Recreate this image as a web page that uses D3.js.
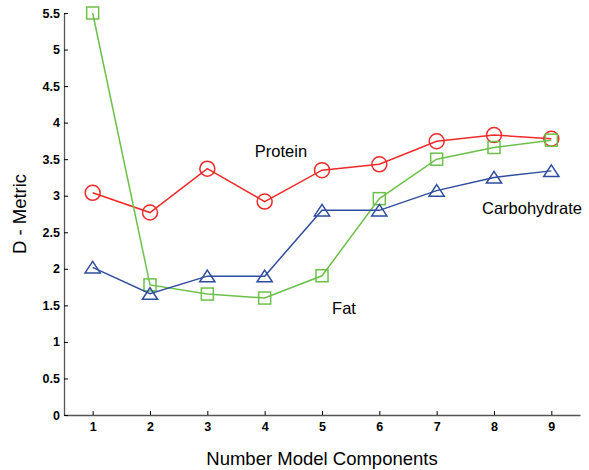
<!DOCTYPE html>
<html>
<head>
<meta charset="utf-8">
<script src="https://cdn.jsdelivr.net/npm/d3@7"></script>
<style>
  body { margin: 0; background: #fff; }
  .axis text { font-family: "Liberation Sans", Arial, sans-serif; font-size: 12.5px; font-weight: bold; fill: #000; }
  .axis .domain { stroke: #555; stroke-width: 1.3; }
  .axis .tick line { stroke: #000; }
  .label { font-family: "Liberation Sans", Arial, sans-serif; font-size: 16.5px; fill: #000; }
  .axis-label { font-family: "Liberation Sans", Arial, sans-serif; font-size: 18.5px; fill: #000; }
</style>
</head>
<body>
<div id="chart"></div>
<script>
let canvasWidth = 589;
let canvasHeight = 470;

// data
let components = [1, 2, 3, 4, 5, 6, 7, 8, 9];
let protein = [3.04, 2.77, 3.37, 2.92, 3.35, 3.43, 3.745, 3.83, 3.78];
let fat = [5.5, 1.78, 1.655, 1.6, 1.905, 2.96, 3.5, 3.66, 3.76];
let carbohydrate = [2.02, 1.66, 1.9, 1.9, 2.8, 2.8, 3.07, 3.25, 3.34];
let yTicks = [0, 0.5, 1, 1.5, 2, 2.5, 3, 3.5, 4, 4.5, 5, 5.5];
let yTickLabels = ["0", "0.5", "1", "1.5", "2", "2.5", "3", "3.5", "4", "4.5", "5", "5.5"];

let svg = d3.select("#chart")
    .append("svg")
    .attr("width", canvasWidth)
    .attr("height", canvasHeight);

let xScale = d3.scaleLinear().domain([0.5, 9.5]).range([64, 580]);
let yScale = d3.scaleLinear().domain([0, 5.5]).range([415, 13]);

// x axis
svg.append("g")
    .attr("class", "axis")
    .attr("transform", "translate(0, 415)")
    .call(d3.axisBottom(xScale)
        .tickValues(components)
        .tickFormat(d3.format("d"))
        .tickSizeInner(-4)
        .tickSizeOuter(0)
        .tickPadding(7));

// y axis
svg.append("g")
    .attr("class", "axis")
    .attr("transform", "translate(64, 0)")
    .call(d3.axisLeft(yScale)
        .tickValues(yTicks)
        .tickFormat((d, i) => yTickLabels[i])
        .tickSizeInner(-4)
        .tickSizeOuter(0)
        .tickPadding(4));

// axis labels
svg.append("text")
    .attr("class", "axis-label")
    .attr("x", 322)
    .attr("y", 465)
    .attr("text-anchor", "middle")
    .text("Number Model Components");

svg.append("text")
    .attr("class", "axis-label")
    .attr("text-anchor", "middle")
    .attr("transform", "translate(26, 214) rotate(-90)")
    .text("D - Metric");

let line = d3.line()
    .x((d, i) => xScale(components[i]))
    .y(d => yScale(d));

let series = [
    { name: "Protein", values: protein, color: "#ee2a2a", marker: "circle" },
    { name: "Fat", values: fat, color: "#6cc04a", marker: "square" },
    { name: "Carbohydrate", values: carbohydrate, color: "#2e4c9e", marker: "triangle" }
];

series.forEach(s => {
    let g = svg.append("g");
    g.append("path")
        .datum(s.values)
        .attr("fill", "none")
        .attr("stroke", s.color)
        .attr("stroke-width", 1.5)
        .attr("d", line);

    let pts = g.selectAll(".pt")
        .data(s.values)
        .enter();

    if (s.marker === "circle") {
        pts.append("circle")
            .attr("cx", (d, i) => xScale(components[i]))
            .attr("cy", d => yScale(d))
            .attr("r", 7.5)
            .attr("fill", "none")
            .attr("stroke", s.color)
            .attr("stroke-width", 1.5);
    } else if (s.marker === "square") {
        pts.append("rect")
            .attr("x", (d, i) => xScale(components[i]) - 6)
            .attr("y", d => yScale(d) - 6)
            .attr("width", 12)
            .attr("height", 12)
            .attr("fill", "none")
            .attr("stroke", s.color)
            .attr("stroke-width", 1.5);
    } else {
        pts.append("path")
            .attr("transform", (d, i) => "translate(" + xScale(components[i]) + ", " + yScale(d) + ")")
            .attr("d", "M0,-6L7.6,5.6L-7.6,5.6Z")
            .attr("fill", "none")
            .attr("stroke", s.color)
            .attr("stroke-width", 1.5);
    }
});

// series labels
svg.append("text").attr("class", "label").attr("x", 281).attr("y", 156.5)
    .attr("text-anchor", "middle").text("Protein");
svg.append("text").attr("class", "label").attr("x", 344).attr("y", 314)
    .attr("text-anchor", "middle").text("Fat");
svg.append("text").attr("class", "label").attr("x", 482).attr("y", 214)
    .text("Carbohydrate");
</script>
</body>
</html>
